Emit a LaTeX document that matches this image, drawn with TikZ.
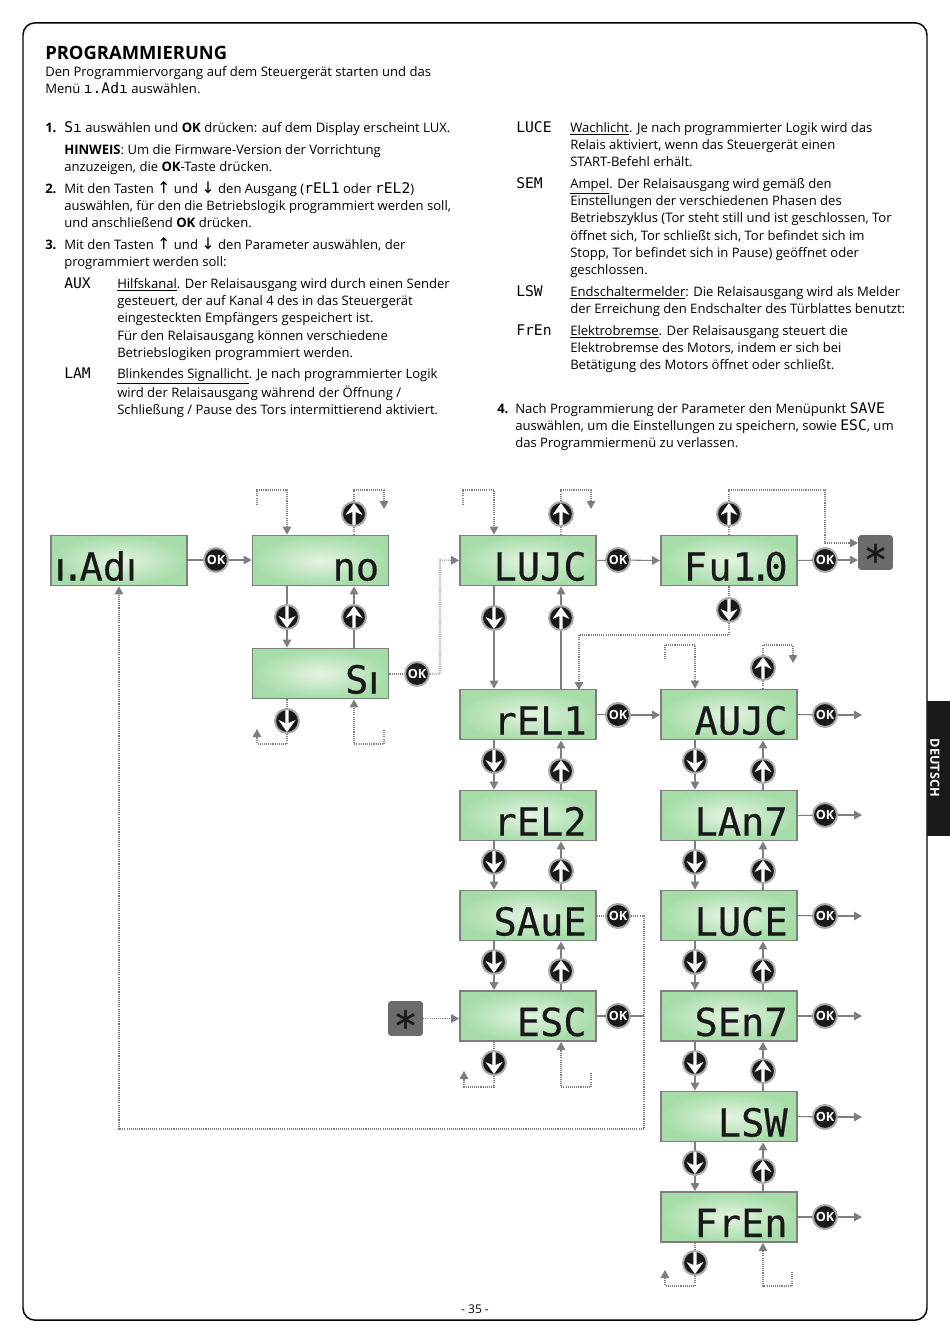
\documentclass[tikz,border=0pt]{standalone}
\usepackage{fontspec}
\setmainfont{Open Sans}
\newfontfamily\lcdfont{DejaVu Sans Mono}
\newfontfamily\lcdbig[FakeBold=0.4]{DejaVu Sans Mono}
\newfontfamily\symfont{DejaVu Sans}
\newfontfamily\sympfont[FakeBold=1]{DejaVu Sans}
\usetikzlibrary{arrows.meta,positioning}
\definecolor{lcdgreen}{HTML}{A6DCA8}
\definecolor{lcdlight}{HTML}{E4F4E2}
\definecolor{flowgray}{HTML}{7E7E7E}
\definecolor{ringgray}{HTML}{ABABAB}
\newcommand{\lcdtxt}[1]{\smash{\lcdfont\fontsize{11pt}{12pt}\selectfont #1}}
\newcommand{\uparr}{\smash{\symfont\fontsize{12pt}{12pt}\selectfont ↑}}
\newcommand{\downarr}{\smash{\symfont\fontsize{12pt}{12pt}\selectfont ↓}}
\newcommand{\thinbar}{{\sympfont ı}}
\tikzset{
  lcdbox/.style={rectangle, draw=flowgray, line width=1.4pt, inner color=lcdlight, outer color=lcdgreen,
    minimum width=102pt, minimum height=37.5pt, inner xsep=7pt, inner ysep=0pt, text width=88pt, align=right,
    text height=33.75pt, text depth=3.75pt, text=black!90,
    font=\lcdbig\fontsize{29pt}{29pt}\selectfont},
  okbtn/.style={circle, draw=ringgray, line width=1.5pt, fill=black!90, minimum size=18pt, inner sep=0pt,
    text=white, font=\bfseries\fontsize{9.5pt}{10pt}\selectfont},
  upbtn/.style={circle, draw=ringgray, line width=1.5pt, fill=black!90, minimum size=18pt, inner sep=0pt,
    path picture={\fill[white, shift={(path picture bounding box.center)}]
      (0,-11) -- (8.5,1) -- (1.7,-2) -- (1.7,13) -- (-1.7,13) -- (-1.7,-2) -- (-8.5,1) -- cycle;}},
  downbtn/.style={circle, draw=ringgray, line width=1.5pt, fill=black!90, minimum size=18pt, inner sep=0pt,
    path picture={\fill[white, shift={(path picture bounding box.center)}]
      (0,11) -- (8.5,-1) -- (1.7,2) -- (1.7,-13) -- (-1.7,-13) -- (-1.7,2) -- (-8.5,-1) -- cycle;}},
  starbox/.style={rectangle, rounded corners=2pt, fill=black!58, minimum size=26pt, inner sep=0pt,
    text=black!90, font=\sympfont\fontsize{30pt}{30pt}\selectfont},
  flow/.style={draw=flowgray, line width=.8pt},
  flowto/.style={flow, -{Triangle[length=6pt,width=6.5pt]}},
  dots/.style={flow, dash pattern=on .8pt off .8pt},
  dotsto/.style={dots, -{Triangle[length=6pt,width=6.5pt]}},
  bodytxt/.style={anchor=north west, inner sep=0pt, align=left, font=\fontsize{9.8pt}{12.94pt}\selectfont, execute at begin node=\strut},
  numtxt/.style={anchor=north west, inner sep=0pt, font=\bfseries\fontsize{9.8pt}{12.94pt}\selectfont, execute at begin node=\strut}
}
\begin{document}
\begin{tikzpicture}[x=.75pt, y=-.75pt]
  \useasboundingbox (0,0) rectangle (950,1343);
  \node[draw=black, line width=1.1pt, rounded corners=9pt, minimum width=678pt, minimum height=973pt, inner sep=0pt] (frame) at (475,671.5) {};
  \node[fill=black!90, minimum width=17.5pt, minimum height=101pt, inner sep=0pt] (tab) at (938.5,768.5) {};
  \node[rotate=-90, text=white, font=\bfseries\fontsize{9.5pt}{10pt}\selectfont, inner sep=0pt] (tablabel) at (935,768) {DEUTSCH};
  \node[inner sep=0pt, font=\fontsize{9pt}{10pt}\selectfont] (pagenr) at (475,1309) {- 35 -};

  % left text
  \node[anchor=north west, inner sep=0pt, font=\bfseries\fontsize{13.8pt}{15pt}\selectfont] (title) at (45,46) {PROGRAMMIERUNG};
  \node[bodytxt] (intro) at (45,66) {Den Programmiervorgang auf dem Steuergerät starten und das\\Menü \lcdtxt{ı.Adı} auswählen.};
  \node[numtxt] (n1) at (45,120) {1.};
  \node[bodytxt] (p1) at (64,120) {\lcdtxt{Sı} auswählen und \textbf{OK} drücken: auf dem Display erscheint LUX.};
  \node[bodytxt] (p1b) at (64,144) {\textbf{HINWEIS}: Um die Firmware-Version der Vorrichtung\\anzuzeigen, die \textbf{OK}-Taste drücken.};
  \node[numtxt] (n2) at (45,181) {2.};
  \node[bodytxt] (p2) at (64,183) {Mit den Tasten \uparr{} und \downarr{} den Ausgang (\lcdtxt{rEL1} oder \lcdtxt{rEL2})\\auswählen, für den die Betriebslogik programmiert werden soll,\\und anschließend \textbf{OK} drücken.};
  \node[numtxt] (n3) at (45,237) {3.};
  \node[bodytxt] (p3) at (64,239) {Mit den Tasten \uparr{} und \downarr{} den Parameter auswählen, der\\programmiert werden soll:};
  \node[bodytxt] (kaux) at (64,276) {\lcdtxt{AUX}};
  \node[bodytxt] (paux) at (117,278) {\underline{Hilfskanal}. Der Relaisausgang wird durch einen Sender\\gesteuert, der auf Kanal 4 des in das Steuergerät\\eingesteckten Empfängers gespeichert ist.\\Für den Relaisausgang können verschiedene\\Betriebslogiken programmiert werden.};
  \node[bodytxt] (klam) at (64,366) {\lcdtxt{LAM}};
  \node[bodytxt] (plam) at (117,368) {\underline{Blinkendes Signallicht}. Je nach programmierter Logik\\wird der Relaisausgang während der Öffnung /\\Schließung / Pause des Tors intermittierend aktiviert.};

  % right text
  \node[bodytxt] (kluce) at (516,120) {\lcdtxt{LUCE}};
  \node[bodytxt] (pluce) at (570,122) {\underline{Wachlicht}. Je nach programmierter Logik wird das\\Relais aktiviert, wenn das Steuergerät einen\\START-Befehl erhält.};
  \node[bodytxt] (ksem) at (516,176) {\lcdtxt{SEM}};
  \node[bodytxt] (psem) at (570,178) {\underline{Ampel}. Der Relaisausgang wird gemäß den\\Einstellungen der verschiedenen Phasen des\\Betriebszyklus (Tor steht still und ist geschlossen, Tor\\öffnet sich, Tor schließt sich, Tor befindet sich im\\Stopp, Tor befindet sich in Pause) geöffnet oder\\geschlossen.};
  \node[bodytxt] (klsw) at (516,284) {\lcdtxt{LSW}};
  \node[bodytxt] (plsw) at (570,286) {\underline{Endschaltermelder}: Die Relaisausgang wird als Melder\\der Erreichung den Endschalter des Türblattes benutzt:};
  \node[bodytxt] (kfren) at (516,323) {\lcdtxt{FrEn}};
  \node[bodytxt] (pfren) at (570,325) {\underline{Elektrobremse}. Der Relaisausgang steuert die\\Elektrobremse des Motors, indem er sich bei\\Betätigung des Motors öffnet oder schließt.};
  \node[numtxt] (n4) at (497,401) {4.};
  \node[bodytxt] (p4) at (515,403) {Nach Programmierung der Parameter den Menüpunkt \lcdtxt{SAVE}\\auswählen, um die Einstellungen zu speichern, sowie \lcdtxt{ESC}, um\\das Programmiermenü zu verlassen.};

  % displays
  \node[lcdbox, align=left] (iadi) at (119,560.5) {\kern-4pt\thinbar\kern-3.3pt.\kern-3.8pt Ad\thinbar};
  \node[lcdbox] (no) at (320.5,560.5) {no};
  \node[lcdbox] (si) at (320.5,673.5) {S\thinbar};
  \node[lcdbox] (lux) at (528,560.5) {LUJC};
  \node[lcdbox] (fw) at (729,560.5) {F\kern1pt u\ \kern-9pt 1\kern-5pt.\kern-6pt 0};
  \node[lcdbox] (rel1) at (528,714.5) {rEL1};
  \node[lcdbox] (rel2) at (528,815.5) {rEL2};
  \node[lcdbox] (save) at (528,915.5) {SAuE};
  \node[lcdbox] (esc) at (528,1016) {ESC};
  \node[lcdbox] (aux) at (729,714.5) {AUJC};
  \node[lcdbox] (lam) at (729,815.5) {LAn7};
  \node[lcdbox] (luce) at (729,915.5) {LUCE};
  \node[lcdbox] (sem) at (729,1016) {SEn7};
  \node[lcdbox] (lsw) at (729,1116.5) {LSW};
  \node[lcdbox] (fren) at (729,1217) {FrEn};
  \node[starbox] (star1) at (875.5,552.5) {\smash{\raisebox{-16pt}{*}}};
  \node[starbox] (star2) at (405.5,1018.5) {\smash{\raisebox{-16pt}{*}}};

  % ok keys
  \node[okbtn] (ok1) at (216,560) {OK};
  \node[okbtn] (ok2) at (417,674) {OK};
  \node[okbtn] (ok3) at (618,560) {OK};
  \node[okbtn] (ok4) at (825,560) {OK};
  \node[okbtn] (ok5) at (618,715) {OK};
  \node[okbtn] (ok6) at (825,715) {OK};
  \node[okbtn] (ok7) at (825,815) {OK};
  \node[okbtn] (ok8) at (618,916) {OK};
  \node[okbtn] (ok9) at (825,916) {OK};
  \node[okbtn] (ok10) at (618,1016) {OK};
  \node[okbtn] (ok11) at (825,1016) {OK};
  \node[okbtn] (ok12) at (825,1117) {OK};
  \node[okbtn] (ok13) at (825,1217) {OK};

  % arrow keys
  \node[upbtn] (upno) at (354,514) {};
  \node[downbtn] (dnno) at (287,617) {};
  \node[upbtn] (upsi) at (354,617) {};
  \node[downbtn] (dnsi) at (287,721) {};
  \node[upbtn] (uplux) at (561,514) {};
  \node[downbtn] (dnlux) at (494,618) {};
  \node[upbtn] (uprel1) at (561,618) {};
  \node[upbtn] (upfw) at (729,514) {};
  \node[downbtn] (dnfw) at (729,610) {};
  \node[downbtn] (dnrel1) at (494,761) {};
  \node[upbtn] (uprel2) at (561,771) {};
  \node[downbtn] (dnrel2) at (494,862) {};
  \node[upbtn] (upsave) at (561,871) {};
  \node[downbtn] (dnsave) at (494,962) {};
  \node[upbtn] (upesc) at (561,971) {};
  \node[downbtn] (dnesc) at (494,1063) {};
  \node[upbtn] (upaux) at (763,668) {};
  \node[downbtn] (dnaux) at (695,761) {};
  \node[upbtn] (uplam) at (763,771) {};
  \node[downbtn] (dnlam) at (695,862) {};
  \node[upbtn] (upluce) at (763,871) {};
  \node[downbtn] (dnluce) at (695,962) {};
  \node[upbtn] (upsem) at (763,971) {};
  \node[downbtn] (dnsem) at (695,1063) {};
  \node[upbtn] (uplsw) at (763,1071) {};
  \node[downbtn] (dnlsw) at (695,1163) {};
  \node[upbtn] (upfren) at (763,1171) {};
  \node[downbtn] (dnfren) at (695,1263) {};

  % free ends
  \coordinate (inno) at (257,505);
  \coordinate (outno) at (384,509);
  \coordinate (outsi) at (257,729);
  \coordinate (insi) at (384,730);
  \coordinate (inlux) at (463,505);
  \coordinate (outlux) at (591,509);
  \coordinate (inaux) at (665,659);
  \coordinate (outaux) at (793,663);
  \coordinate (outesc) at (464,1071);
  \coordinate (inesc) at (591,1073);
  \coordinate (outfren) at (665,1270);
  \coordinate (infren) at (792,1272);
  \coordinate (end6) at (862,715);
  \coordinate (end7) at (862,815);
  \coordinate (end9) at (862,916);
  \coordinate (end11) at (862,1016);
  \coordinate (end12) at (862,1117);
  \coordinate (end13) at (862,1217);

  % horizontal
  \draw[flow] (iadi.east |- ok1) -- (ok1);
  \draw[flowto] (ok1) -- (no.west |- ok1);
  \draw[dots] (si.east |- ok2) -- (ok2);
  \draw[dotsto] (ok2) -| (440,560) -- (lux.west);
  \draw[flow] (lux.east) -- (ok3);
  \draw[flowto] (ok3) -- (fw.west);
  \draw[flow] (fw.east) -- (ok4);
  \draw[flowto] (ok4) -- (star1.west |- ok4);
  \draw[flow] (rel1.east) -- (ok5);
  \draw[flowto] (ok5) -- (aux.west |- ok5);
  \draw[flow] (aux.east) -- (ok6);
  \draw[flowto] (ok6) -- (end6);
  \draw[flow] (lam.east) -- (ok7);
  \draw[flowto] (ok7) -- (end7);
  \draw[flow] (luce.east) -- (ok9);
  \draw[flowto] (ok9) -- (end9);
  \draw[flow] (sem.east) -- (ok11);
  \draw[flowto] (ok11) -- (end11);
  \draw[flow] (lsw.east) -- (ok12);
  \draw[flowto] (ok12) -- (end12);
  \draw[flow] (fren.east) -- (ok13);
  \draw[flowto] (ok13) -- (end13);
  \draw[dotsto] (star2) -- (esc.west |- star2);

  % back to the first display
  \draw[dots] (save.east |- ok8) -- (ok8);
  \draw[flow] (esc.east |- ok10) -- (ok10);
  \draw[flow] (ok10) -- (644,1016);
  \draw[dotsto] (ok8) -- (644,916) -- (644,1129) -- (119,1129) -- (iadi.south);

  % no / si
  \draw[dotsto] (inno) |- (287,490) -- (dnno |- no.north);
  \draw[dots] (upno |- no.north) -- (upno);
  \draw[dotsto] (upno) -- (354,490) -| (outno);
  \draw[flow] (dnno |- no.south) -- (dnno);
  \draw[flowto] (dnno) -- (dnno |- si.north);
  \draw[flow] (upsi |- si.north) -- (upsi);
  \draw[flowto] (upsi) -- (upsi |- no.south);
  \draw[dots] (dnsi |- si.south) -- (dnsi);
  \draw[dotsto] (dnsi) -- (287,744) -| (outsi);
  \draw[dotsto] (insi) |- (354,744) -- (upsi |- si.south);

  % lux
  \draw[dotsto] (inlux) |- (494,490) -- (dnlux |- lux.north);
  \draw[dots] (uplux |- lux.north) -- (uplux);
  \draw[dotsto] (uplux) -- (561,490) -| (outlux);
  \draw[flow] (dnlux |- lux.south) -- (dnlux);
  \draw[flowto] (dnlux) -- (dnlux |- rel1.north);
  \draw[flow] (uprel1 |- rel1.north) -- (uprel1);
  \draw[flowto] (uprel1) -- (uprel1 |- lux.south);

  % firmware
  \draw[dots] (fw.north) -- (upfw);
  \draw[dotsto] (upfw) -- (729,490) -| (825,543) -- (star1.west |- 0,543);
  \draw[dots] (fw.south) -- (dnfw);
  \draw[dotsto] (dnfw) -- (729,635) -| (579,690);

  % middle column
  \draw[flow] (dnrel1 |- rel1.south) -- (dnrel1);
  \draw[flowto] (dnrel1) -- (dnrel1 |- rel2.north);
  \draw[flow] (uprel2 |- rel2.north) -- (uprel2);
  \draw[flowto] (uprel2) -- (uprel2 |- rel1.south);
  \draw[flow] (dnrel2 |- rel2.south) -- (dnrel2);
  \draw[flowto] (dnrel2) -- (dnrel2 |- save.north);
  \draw[flow] (upsave |- save.north) -- (upsave);
  \draw[flowto] (upsave) -- (upsave |- rel2.south);
  \draw[flow] (dnsave |- save.south) -- (dnsave);
  \draw[flowto] (dnsave) -- (dnsave |- esc.north);
  \draw[flow] (upesc |- esc.north) -- (upesc);
  \draw[flowto] (upesc) -- (upesc |- save.south);
  \draw[dots] (dnesc |- esc.south) -- (dnesc);
  \draw[dotsto] (dnesc) -- (494,1087) -| (outesc);
  \draw[dotsto] (inesc) |- (561,1087) -- (upesc |- esc.south);

  % right column
  \draw[dotsto] (inaux) |- (695,645) -- (dnaux |- aux.north);
  \draw[dots] (upaux |- aux.north) -- (upaux);
  \draw[dotsto] (upaux) -- (763,645) -| (outaux);
  \draw[flow] (dnaux |- aux.south) -- (dnaux);
  \draw[flowto] (dnaux) -- (dnaux |- lam.north);
  \draw[flow] (uplam |- lam.north) -- (uplam);
  \draw[flowto] (uplam) -- (uplam |- aux.south);
  \draw[flow] (dnlam |- lam.south) -- (dnlam);
  \draw[flowto] (dnlam) -- (dnlam |- luce.north);
  \draw[flow] (upluce |- luce.north) -- (upluce);
  \draw[flowto] (upluce) -- (upluce |- lam.south);
  \draw[flow] (dnluce |- luce.south) -- (dnluce);
  \draw[flowto] (dnluce) -- (dnluce |- sem.north);
  \draw[flow] (upsem |- sem.north) -- (upsem);
  \draw[flowto] (upsem) -- (upsem |- luce.south);
  \draw[flow] (dnsem |- sem.south) -- (dnsem);
  \draw[flowto] (dnsem) -- (dnsem |- lsw.north);
  \draw[flow] (uplsw |- lsw.north) -- (uplsw);
  \draw[flowto] (uplsw) -- (uplsw |- sem.south);
  \draw[flow] (dnlsw |- lsw.south) -- (dnlsw);
  \draw[flowto] (dnlsw) -- (dnlsw |- fren.north);
  \draw[flow] (upfren |- fren.north) -- (upfren);
  \draw[flowto] (upfren) -- (upfren |- lsw.south);
  \draw[dots] (dnfren |- fren.south) -- (dnfren);
  \draw[dotsto] (dnfren) -- (695,1286) -| (outfren);
  \draw[dotsto] (infren) |- (763,1286) -- (upfren |- fren.south);
\end{tikzpicture}
\end{document}
